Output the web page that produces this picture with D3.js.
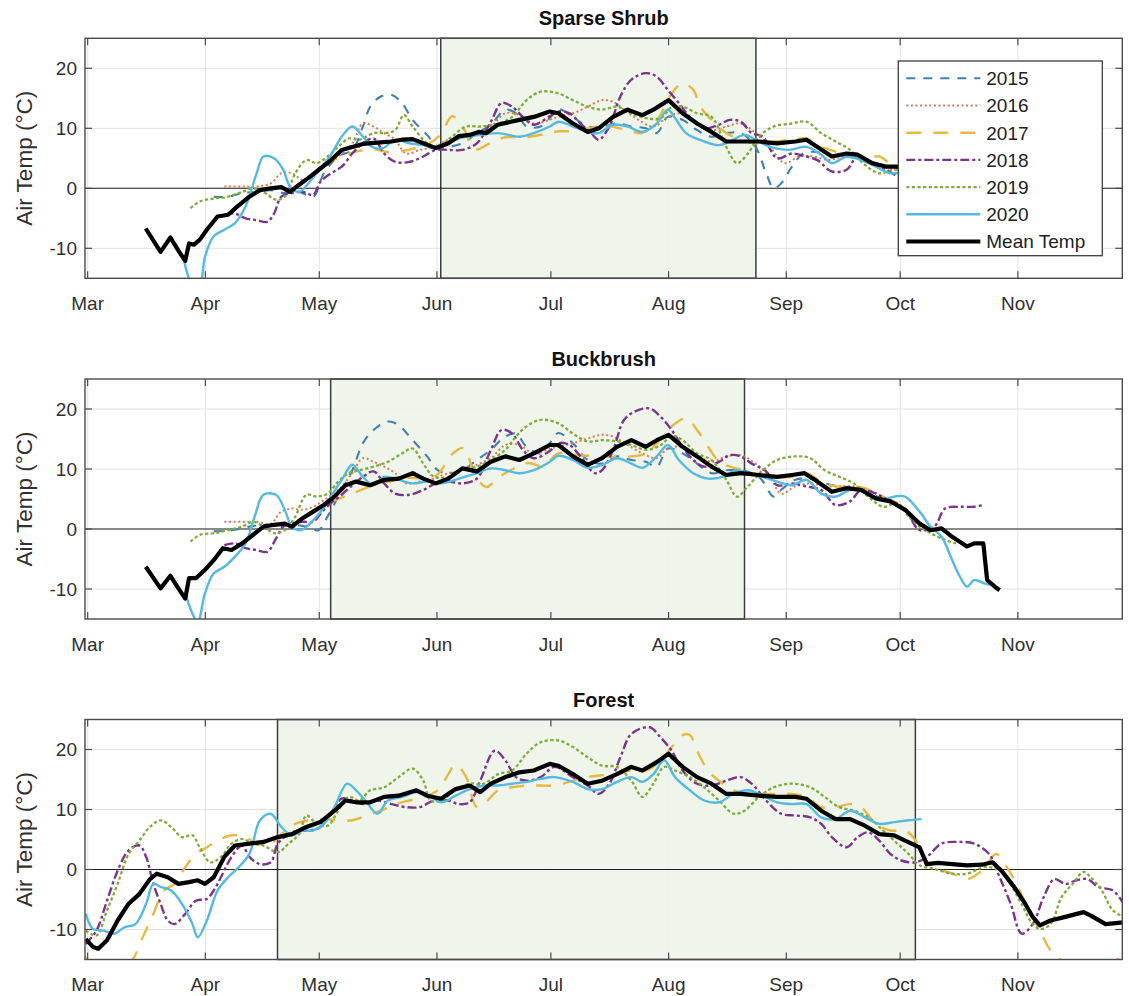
<!DOCTYPE html>
<html><head><meta charset="utf-8">
<script src="https://cdn.jsdelivr.net/npm/d3@7"></script>
<style>
html,body{margin:0;padding:0;background:#fff;}
text{font-family:Arial,"Liberation Sans",Helvetica,sans-serif;}
</style></head>
<body><svg id="chart" width="1129" height="996"></svg>
<script>
// ---------- categories / ticks ----------
const MONTH_LABELS = ["Mar","Apr","May","Jun","Jul","Aug","Sep","Oct","Nov"];
const MONTH_DAYS   = [0,31,61,92,122,153,184,214,245];   // days since 1 Mar
const Y_TICKS = [-10,0,10,20];
const YEARS = ["2015","2016","2017","2018","2019","2020"];
const LEGEND_LABELS = ["2015","2016","2017","2018","2019","2020","Mean Temp"];
const PANEL_TITLES = ["Sparse Shrub","Buckbrush","Forest"];
// growing-season shading, [start day, end day] since 1 Mar
const SHADE_SHRUB = [93,176];
const SHADE_BUCK  = [64,173];
const SHADE_FOREST= [50,218];

// ---------- data: [day since 1 Mar, air temp °C] ----------
const shrub2015 = [[33.2,-1.4],[37,-1.4],[40.7,-0.8],[44.5,-0.6],[48.2,-0.3],[51.9,-0.8],[55.7,-0.6],[59.4,-1.4],[62.2,2.5],[66,5.3],[69.7,6.4],[72.5,10.3],[74.4,13.6],[77.2,15.3],[80,15.6],[82.8,14.2],[85.6,11.4],[89.4,8.9],[92.2,6.9],[95,6.9],[98.7,7.5],[102.5,9.2],[106.2,10.6],[110,13.1],[112.8,12.5],[115.6,10.3],[119.3,10.3],[121.7,11.7],[124,13.2],[127.8,11.9],[131.7,10.3],[135.5,10.3],[139.4,10.8],[143.2,10.3],[147,10],[149.9,9.2],[152.8,11.9],[156.7,11.4],[160.5,9.7],[164.3,8.6],[168.2,9.2],[172,9.2],[175.9,6.9],[178.7,2.5],[180.7,0],[182.6,0.8],[185.5,3.6],[188.4,5.8],[191.2,6.1],[195.1,5.6],[198.9,5.3],[202.8,5],[206.6,4.2],[210.4,3.6],[214,3.3]];
const shrub2016 = [[36,0.3],[40.7,0.3],[44.5,0.3],[48.2,0.8],[51,2.5],[53.8,2.5],[56.6,1.4],[59.4,2.5],[62.2,3.6],[66,5.3],[69.7,7.5],[72.5,10.8],[75.3,10.3],[78.1,9.2],[81,8.1],[83.8,5.8],[87.5,6.4],[91.2,6.9],[95,8.1],[98.7,8.6],[102.5,9.2],[106.2,10.3],[110,12.5],[113.7,12.2],[117.5,10.8],[121.7,11.4],[124,11.9],[127.8,12.5],[131.7,13.6],[135.5,14.7],[138.4,14.4],[141.3,13.1],[145.1,11.4],[149,10.3],[152.8,11.9],[156.7,12.5],[160.5,10.8],[164.3,9.7],[168.2,10.3],[172,10.8],[175.9,9.2],[179.7,6.9],[183.6,4.2],[187.4,5.3],[191.2,5.3],[195.1,4.7],[198.9,5.3],[202.8,5.3],[206.6,4.4],[210.4,3.6],[214,3.2]];
const shrub2017 = [[62,4],[66,5],[70,6],[75,6.5],[80,6],[85,6.5],[90,7.5],[93,9],[96,12],[99,10],[102,6.5],[106,7.5],[110,8.5],[115,8.5],[120,9],[124,9.5],[128,9.5],[132,10],[136,10.5],[140,10],[143,9.5],[146,9.2],[150,11.4],[153.8,15.8],[156.7,17.5],[159.5,16.4],[161.4,13.6],[164.3,11.4],[168.2,9.2],[172,8.1],[175.9,7.5],[180.7,7.8],[185.5,8.1],[189.3,8.3],[193.2,6.9],[197,6.1],[200.8,5.3],[204.7,5],[208.5,5.3],[212.4,3.6],[216,3]];
const shrub2018 = [[36,-4.4],[38.8,-4.2],[41.6,-5],[44.5,-5.3],[47.3,-5.6],[49.1,-4.2],[51,-1.4],[53.8,-0.8],[56.6,-0.6],[59.4,-1.1],[61.3,1.1],[64.1,2.5],[66.9,3.6],[69.7,5.8],[72.5,7.5],[75.3,8.3],[78.1,5.8],[81,4.4],[84.7,4.4],[88.4,5.3],[91.7,6.4],[95,6.4],[98.7,6.4],[102.5,7.5],[106.2,11.1],[109,14.2],[111.8,13.6],[114.6,11.9],[117.5,10.6],[121.7,12],[124,12.8],[126.9,12.5],[129.8,10.8],[132.6,9.2],[134.6,8.1],[137.4,10.3],[140.3,15.3],[143.2,18.1],[147,19.2],[149.9,18.6],[152.8,16.4],[155.7,14.2],[158.6,11.9],[162.4,10],[166.3,10.6],[169.1,11.4],[172,11.1],[174.9,9.2],[177.8,8.6],[181.6,5],[185.5,5.8],[189.3,5.3],[192.2,4.7],[196,2.8],[199.9,3.1],[202.8,5.3],[206.6,4.2],[210.4,3.1],[213.3,1.9]];
const shrub2019 = [[27.1,-3.3],[29.5,-2.2],[33.2,-1.7],[37,-1.4],[40.7,-0.6],[43.5,0],[46.3,-0.6],[49.6,-1.9],[51.9,-1.4],[54.7,2.5],[57.6,4.7],[60.4,4.2],[63.2,5.3],[66,6.9],[68.8,8.3],[71.6,8.1],[75.3,9.2],[78.1,9.2],[81,9.7],[83.3,12.2],[85.6,10.3],[89.4,7.5],[92.2,6.9],[95.9,8.6],[99.7,10.3],[103.4,10.3],[108.1,10.8],[111.8,11.9],[115.6,14.7],[119.3,16.1],[124,15.8],[127.8,14.7],[131.7,13.6],[135.5,13.1],[139.4,13.6],[143.2,12.5],[147,11.7],[150.9,11.7],[153.8,13.5],[156.7,13.6],[160.5,12.5],[164.3,11.9],[168.2,6.9],[171,4.2],[173.9,5.8],[176.8,8.6],[180.7,10.3],[185.5,10.8],[189.3,11.1],[193.2,9.2],[197,7.8],[200.8,6.4],[204.7,3.9],[208.5,2.5],[212.4,3.1],[216,2.6]];
const shrub2020 = [[25.2,-11.5],[27.6,-16],[29.5,-16],[30.9,-11.4],[33.2,-8],[36,-6.9],[38.8,-5.8],[41.6,-3],[44.5,2.5],[46.3,5.3],[49.1,5],[51.5,3.1],[53.3,0.3],[55.7,-0.6],[58.5,1.1],[61.3,3.3],[64.1,5.6],[66.9,8.6],[69.7,10.3],[72.5,8.6],[74.9,6.9],[77.7,6.7],[81,8.1],[84.7,7.5],[88.4,7.2],[91.7,6.7],[97.8,8.3],[103.4,8.9],[108.1,9.2],[113.7,8.6],[117.5,9.2],[121.7,10.3],[124,11.1],[127.8,10.3],[131.7,9.4],[134.6,9.2],[138.4,10.6],[142.2,10.3],[146.1,9.4],[149.9,10.8],[152.8,13.1],[154.7,11.7],[157.6,9.2],[162.4,7.8],[166.3,7.2],[169.1,7.8],[173,8.9],[175.9,8.1],[179.7,6.9],[184.5,6.4],[189.3,6.9],[193.2,5.6],[196,4.2],[199.9,5.3],[203.7,4.7],[207.6,3.6],[211.4,2.5],[215,2.8]];
const shrubMean = [[15.3,-6.7],[19.2,-10.6],[21.8,-8.2],[23.9,-10.4],[25.7,-12.1],[26.7,-9.2],[28,-9.4],[29.5,-8.6],[31.4,-6.9],[34.2,-4.7],[37,-4.4],[39.3,-3.1],[42.6,-1.4],[45.4,-0.3],[48.2,0],[51,0.2],[53.3,-0.6],[55.7,0.6],[58.5,1.9],[61.3,3.3],[64.1,4.7],[66.9,6.4],[69.7,6.9],[72.5,7.4],[76.3,7.6],[80,7.8],[82.8,8.1],[85.6,8.2],[88.4,7.5],[91.7,6.7],[95,7.5],[97.8,8.7],[100.6,8.9],[103,9.4],[105,9.2],[108,10.6],[113.7,11.4],[117.5,11.9],[121.7,12.8],[124,12.5],[127.8,10.8],[131.7,9.4],[134.6,10],[138.4,11.9],[142.2,13.1],[146.1,12.2],[149,13.1],[153,14.7],[156.7,12.5],[160.5,10.8],[164.3,9.4],[168.2,7.8],[172,7.8],[176.8,7.8],[181.6,7.5],[186.4,7.8],[189.3,8.1],[192.2,6.9],[196,5.3],[199.9,5.8],[202.8,5.6],[206.6,4.2],[210.4,3.6],[213.3,3.6],[216,3.2]];

const buck2015 = [[33.2,-0.4],[37.9,-0.2],[42.6,0.4],[46.3,0.7],[50.1,0.4],[53.8,0.7],[57.6,0.4],[60.8,-0.2],[63.2,2.1],[66.9,6.5],[69.7,9.8],[72.5,14.3],[75.3,16.5],[79.1,17.9],[81.9,17.3],[85.6,14.8],[89.4,12.1],[92.2,9.8],[95,9.3],[98.7,9.8],[102.5,11.5],[106.2,13.2],[110,15.4],[112.8,15.9],[115.6,13.7],[119.3,12.6],[121.7,14.3],[124,16],[127.8,14.3],[131.7,11.5],[135.5,10.9],[139.4,12.1],[143.2,11.5],[147,11.2],[149.9,10.4],[152.8,13.4],[156.7,12.6],[160.5,10.9],[164.3,9.3],[168.2,9.8],[172,9.8],[176.8,8.7],[180.7,5.4],[182.6,6.5],[186.4,8.2],[190.3,8.4],[194.1,7.6],[198,7.1],[201.8,6.8],[205.6,5.9],[209.5,5.1],[213.3,4.3]];
const buck2016 = [[36,1.2],[40.7,1.2],[44.5,1.2],[48.2,0.9],[51,2.9],[53.8,3.4],[56.6,3.2],[59.4,3.7],[62.2,4.8],[66,6.5],[69.7,9.3],[72.5,11.8],[75.3,11.2],[78.1,10.4],[81,9.3],[83.8,7.6],[87.5,7.9],[91.2,8.4],[95,9.3],[98.7,9.8],[102.5,10.7],[106.2,11.8],[110,14],[113.7,14],[117.5,12.6],[121.7,13.4],[124,13.7],[127.8,14.3],[131.7,15.1],[135.5,15.7],[138.4,15.4],[142.2,14],[146.1,12.6],[149.9,11.8],[152.8,13.4],[156.7,13.7],[160.5,12.3],[164.3,11.2],[168.2,12.1],[172,12.3],[175.9,10.9],[179.7,8.7],[182.6,5.9],[186.4,7.1],[190.3,7.6],[194.1,7.1],[198,7.1],[201.8,7.1],[205.6,6.5],[209.5,5.4],[213.3,4.3]];
const buck2017 = [[64,4.5],[68,5.5],[72,6.5],[76,7.5],[80,8],[84,8.5],[88,8.5],[92,9],[96,12.5],[99,13.5],[102,9],[105,7],[108,8.5],[112,10],[116,11],[120,10.5],[124,12.6],[129.8,12.3],[135.5,12.1],[143.2,12.1],[147,12.6],[149.9,14.3],[153.8,17.1],[157.6,18.4],[160.5,16.5],[163.4,13.7],[166.3,11.2],[169.1,10.4],[173,9.8],[176.8,9],[180.7,8.7],[185.5,8.7],[189.3,9.3],[193.2,7.9],[197,7.1],[200.8,7.1],[204.7,6.8],[207.6,5.9],[211.4,4.8],[214.3,4.3]];
const buck2018 = [[36,-2.7],[38.8,-2.4],[41.6,-3.2],[44.5,-3.5],[47.3,-3.8],[49.6,-1.6],[51.5,0.4],[53.8,0.9],[56.6,1.2],[59.4,1.2],[61.8,2.9],[64.1,4.3],[66.9,5.7],[69.7,7.3],[72.5,8.7],[75.3,9.6],[78.1,7.6],[81,5.9],[84.7,5.7],[88.4,6.5],[91.7,7.6],[95,7.9],[98.7,7.6],[102.5,8.4],[106.2,13.2],[109,16.5],[111.8,15.9],[114.6,13.2],[117.5,11.8],[121.7,13],[124,14.3],[126.9,14],[129.8,12.1],[133.6,9.3],[135.5,9.8],[138.4,13.2],[141.3,18.2],[144.2,19.6],[148,20.1],[150.9,18.7],[153.8,16.5],[156.7,13.7],[159.5,11.5],[162.4,10.4],[166.3,11.2],[169.1,12.3],[172,12.1],[174.9,10.9],[178.7,9.6],[181.6,7.3],[185.5,7.6],[189.3,7.1],[193.2,6.5],[197,4],[200.8,4.6],[203.7,6.5],[207.6,5.9],[211.4,4.6],[215.3,3.2],[219.1,-0.2],[223,0.4],[225.8,3.4],[229.7,3.7],[233.5,3.7],[235.9,4]];
const buck2019 = [[27.1,-2.1],[29.5,-1],[33.2,-0.7],[37,-0.2],[40.7,0.4],[43.5,1.2],[46.3,0.4],[49.1,-0.7],[51.9,-0.2],[54.7,2.1],[57.6,5.7],[60.4,5.4],[63.2,5.9],[66,7.9],[68.8,9.3],[71.6,9.8],[75.3,10.4],[79.1,11.2],[82.8,12.6],[85.6,13.4],[88.4,10.9],[91.2,8.7],[95,8.7],[98.7,10.1],[102.5,10.4],[106.2,11.5],[110,13.2],[112.8,15.4],[115.6,17.1],[119.3,18.2],[124,17.6],[127.8,15.9],[131.7,14.6],[135.5,14.8],[139.4,14.6],[143.2,14],[147,13.2],[151,14],[153.8,15.5],[156.7,14.8],[160.5,12.6],[164.3,11.5],[168.2,8.2],[171,5.4],[173.9,7.1],[177.8,9.8],[181.6,11.5],[186.4,12.1],[190.3,11.8],[194.1,9.8],[198,8.7],[201.8,7.6],[205.6,5.4],[209.5,3.7],[213.3,4.3],[216.2,2.1],[219.1,0.4],[222,-0.7],[225.8,-1.8],[228.7,-2.4]];
const buck2020 = [[25.7,-10.7],[27.6,-14.1],[29,-15.5],[30.9,-10.7],[33.2,-7.4],[36,-6.3],[38.8,-4.6],[41.6,-2.4],[44,2.1],[46.3,5.7],[49.6,5.7],[51.9,3.2],[53.8,0.4],[56.2,-0.2],[59,1.2],[61.8,3.2],[64.6,5.9],[67.4,8.7],[69.7,10.7],[72.5,8.7],[75.3,7.3],[78.1,8.7],[81.9,8.2],[85.6,7.6],[89.4,7.9],[93.1,7.6],[97.8,8.4],[102.5,9.3],[106.2,10.1],[110,9.8],[113.7,9.3],[117.5,9.8],[121.7,11.2],[124,12.2],[127.8,11.5],[131.7,10.2],[135.5,10.7],[139.4,11.8],[143.2,10.9],[146.1,10.2],[149.9,12.1],[152.8,14],[155.7,11.5],[159.5,9.3],[163.4,8.4],[167.2,8.7],[171,9.8],[173.9,9.3],[177.8,8.7],[181.6,7.9],[185.5,7.3],[189.3,8.2],[193.2,5.9],[197,5.4],[200.8,6.5],[204.7,6.2],[208.5,4.8],[212.4,5.4],[215.3,5.4],[219.1,2.9],[222,0.4],[224.9,-1.3],[227.7,-5.2],[229.7,-7.9],[231.6,-9.6],[233.5,-8.5],[236.3,-9.1],[238.3,-9.3]];
const buckMean = [[15.3,-6.3],[19.2,-9.9],[21.8,-7.8],[23.9,-9.9],[25.7,-11.6],[26.7,-8.2],[28.5,-8.2],[30.9,-6.8],[33.2,-5.2],[35.6,-3.2],[37.9,-3.5],[40.7,-2.4],[43.5,-1],[46.3,0.4],[49.1,0.7],[51.9,0.9],[53.8,0.4],[56.6,1.8],[59.4,2.9],[62.2,4],[65,5.4],[67.9,7.3],[70.7,7.9],[74.4,7.3],[78.1,8.2],[81.9,8.4],[85.6,9.3],[88.4,8.4],[91.7,7.6],[95,8.4],[98.7,10.1],[102.5,9.6],[106.2,11.2],[110,12.1],[113.7,11.5],[117.5,12.6],[121.7,14],[124,14],[127.8,12.1],[131.7,10.7],[135.5,11.8],[139.4,13.7],[143.2,14.8],[147,13.7],[149.9,14.8],[153,15.7],[156.7,13.7],[160.5,12.1],[164.3,10.4],[168.2,9],[172,9.3],[176.8,9],[181.6,8.7],[185.5,9],[188.8,9.3],[192.2,7.9],[196,6.2],[199.9,6.8],[203.7,6.5],[207.6,5.1],[211.4,4.6],[215.3,3.2],[219.1,0.9],[222,-0.2],[224.9,0.1],[227.7,-1.3],[231.6,-2.9],[233.5,-2.4],[235.9,-2.4],[236.9,-8.5],[239.3,-9.8],[240.2,-10.2]];

const forest2015 = [];
const forest2016 = [];
const forest2017 = [[-0.7,-14.6],[3,-16.5],[8,-17.5],[11.7,-15.2],[14.5,-11.3],[17.3,-7.4],[20.1,-3.5],[22.9,-2.4],[25.7,0.4],[28.5,2.6],[31.4,3.7],[34.2,4.8],[37.9,5.7],[41.6,5.4],[44.5,4.3],[48.2,4.3],[51,5.9],[54.7,7.6],[58.5,8.2],[62.2,8.4],[66,8.2],[69.7,8.2],[73.5,9],[77.2,9.8],[81,10.9],[84.7,11.5],[88.4,12.1],[92.2,13.2],[95,15.9],[96.9,17.5],[99.7,15.4],[102.5,10.4],[105.3,11.5],[108.1,13.2],[111.8,13.7],[115.6,14],[119.3,14],[123,14],[127.8,14.8],[131.7,15.4],[135.5,15.7],[139.4,15.9],[143.2,16.5],[147,16.5],[151,18.2],[153.8,20.4],[156.7,22.4],[158.6,22.4],[160.5,19.8],[163.4,16.5],[166.3,14.8],[170.1,13.2],[174,12.6],[177.8,12.6],[181.6,12.6],[185.5,12.6],[189.3,12.1],[193.2,10.4],[197,10.4],[200.8,10.9],[203.7,10.4],[207.6,7.6],[211.4,6.5],[215.3,6.5],[218.1,4.8],[220,2.1],[222.9,0.4],[227.7,-0.7],[231.6,-1.6],[235.5,-0.2],[239.3,2.6],[242.1,0.4],[245,-2.9],[247.9,-6.8],[250.8,-10.2],[253.6,-13.5],[255.6,-14.6],[258,-16.5],[265,-17],[270,-15.8],[272.9,-13.5]];
const forest2018 = [[-0.5,-12.4],[2.3,-10.2],[5.1,-5.2],[7.9,-0.2],[10.8,3.2],[13.6,4],[15.4,2.1],[17.3,-2.4],[19.2,-5.7],[21.1,-8.5],[22.9,-9.1],[25.7,-7.4],[28.5,-5.2],[31.4,-4.9],[33.2,-3.5],[35.1,-1.3],[37.9,2.1],[40.7,4],[42.6,2.1],[45.4,0.9],[48.2,1.2],[50.1,4.3],[52.9,5.9],[55.7,6.5],[58.5,6.5],[61.3,7.1],[64.1,9.3],[66.9,11.8],[69.7,11.5],[72.5,10.9],[76.3,11.5],[80,10.9],[83.8,10.4],[87.5,10.4],[91.2,11.5],[95,11.5],[97.8,10.9],[100.6,11.2],[103.4,14.8],[107.2,19.8],[110,18.2],[112.8,15.4],[115.6,14.8],[119.3,15.4],[123,17.1],[127.8,15.4],[131.7,14],[134.6,12.6],[137.4,14.3],[140.3,18.7],[143.2,22.6],[148,23.7],[150.9,22],[153.8,19.8],[156.7,16.5],[160.5,14.3],[164.3,14],[168.2,14.8],[172,15.4],[174.9,14.3],[178.7,11.5],[182.6,9.3],[186.4,9],[190.3,8.7],[193.2,7.6],[196,5.4],[199.9,3.7],[202.8,5.4],[205.6,6.2],[208.5,4.8],[211.4,2.6],[214.3,1.5],[218.1,1.2],[221,2.1],[224.8,4.3],[228.7,4.6],[233.5,4.3],[237.4,2.6],[240.2,-1.3],[243.1,-5.7],[246,-10.7],[248.9,-9.1],[251.8,-4.6],[254.6,-1.6],[257.5,-2.4],[260.4,-1.8],[263.3,-1.6],[266.2,-2.9],[270,-3.5],[272.9,-5.7]];
const forest2019 = [[-0.5,-10.2],[2.3,-11],[5.1,-6.8],[7.9,-2.4],[10.8,2.6],[13.6,4.8],[16.4,7.1],[19.2,8.2],[22,7.1],[24.8,5.4],[27.6,5.7],[29.5,3.7],[32.3,1.2],[35.1,2.1],[37.9,4.3],[40.7,5.1],[43.5,4.3],[46.3,4],[50.1,2.9],[52.9,4.3],[55.7,5.9],[57.6,9],[60.4,7.6],[63.2,7.3],[66,9.8],[68.8,12.1],[71.6,11.5],[74.4,13.2],[78.1,13.7],[81.9,15.4],[85.6,16.8],[88.4,14.8],[90.3,11.5],[93.1,11.5],[96.9,13.2],[100.6,14.3],[104.4,14.3],[108.1,15.9],[111.8,16.5],[115.6,19.3],[119.3,21.2],[124,21.5],[127.8,20.4],[131.7,18.7],[135.5,17.3],[139.4,17.1],[143.2,14.8],[146.1,12.1],[149,14.3],[151.8,17.1],[154.7,16.5],[158.6,15.4],[162.4,13.7],[166.3,11.5],[170.1,9.3],[173,9.8],[176.8,12.1],[180.7,13.7],[185.5,14.3],[190.3,13.7],[194.1,12.1],[197.9,10.4],[201.8,9.8],[205.6,8.7],[209.5,6.5],[213.3,4.3],[216.2,2.6],[219.1,0.7],[223,0.1],[227.7,-0.7],[231.6,-0.7],[236.3,0.4],[240.2,-0.2],[243,-2.4],[245.9,-5.7],[248.9,-9.1],[250.8,-9.9],[253.6,-9.1],[256.5,-4.6],[259.4,-2.4],[262.3,-0.4],[264.2,-1.3],[267.1,-3.5],[270,-6.8],[272.9,-7.9]];
const forest2020 = [[-0.5,-7.4],[1.4,-9.9],[4.2,-10.2],[7,-10.7],[9.8,-9.6],[12.6,-9.1],[15.4,-5.7],[17.3,-2.4],[19.2,-2.9],[22,-3.5],[24.8,-5.7],[27.6,-9.1],[29,-11.3],[31.4,-8.5],[34.2,-3.5],[37,-1.3],[39.8,0.4],[42.6,2.6],[45.4,8.2],[48.2,9.3],[51,7.1],[53.8,5.7],[56.6,6.5],[59.4,6.5],[62.2,7.6],[65,10.4],[68.3,14.3],[70.7,13.2],[73.5,11.2],[76.3,9.3],[79.1,11.5],[82.8,12.1],[86.6,12.9],[89.4,12.6],[93.1,11.2],[96.9,12.3],[100.6,13.4],[104.4,14],[108.1,14],[111.8,14.3],[115.6,14.6],[119.3,15.1],[123,15.4],[127.8,14.6],[131.7,13.4],[135.5,13.4],[139.4,14.6],[143.2,15.4],[146.1,14.6],[149,15.9],[151.8,18.2],[154.7,15.4],[158.6,13.2],[162.4,11.5],[166.3,11.2],[170.1,12.6],[174,13.2],[177.8,12.3],[181.6,11.2],[185.5,10.9],[189.3,10.9],[193.2,8.7],[197,8.4],[200.8,9.8],[204.7,8.7],[208.5,7.6],[212.4,7.9],[216.2,8.2],[219.6,8.4]];
const forestMean = [[-0.5,-11.6],[1.4,-12.9],[2.8,-13.2],[5.1,-11.8],[7.9,-8.5],[10.8,-5.7],[13.6,-4.1],[16.4,-1.6],[18.2,-0.7],[21.1,-1.3],[23.9,-2.4],[26.7,-2.1],[29,-1.8],[30.9,-2.4],[33.2,-1.3],[36,2.1],[38.8,4],[42.6,4.3],[46.3,4.6],[50.1,5.4],[53.8,5.9],[57.6,7.1],[61.3,7.9],[65,9.8],[67.9,11.5],[70.7,11.2],[74.4,11.2],[78.1,12.1],[81.9,12.3],[86.6,13.2],[89.4,12.3],[93.1,11.8],[96.9,13.4],[100.6,14],[103.4,12.9],[106.2,14.3],[110,15.4],[113.7,16.2],[117.5,16.5],[121.7,17.6],[124,17.3],[127.8,15.9],[131.7,14.3],[135.5,14.8],[139.4,15.9],[143.2,17.1],[146.1,16.5],[149.9,17.9],[153,19.3],[156.7,17.1],[160.5,15.4],[164.3,14.3],[168.2,12.6],[172,12.6],[176.8,12.3],[181.6,12.1],[186.4,12.1],[189.3,11.8],[193.2,9.8],[197,8.4],[200.8,8.4],[204.7,7.3],[208.5,5.9],[212.4,5.7],[215.3,4.8],[219.1,3.7],[221,0.9],[223.9,1.1],[227.7,0.9],[231.6,0.7],[235.5,0.8],[238.3,1.2],[240.7,-0.2],[244,-2.9],[246.9,-5.7],[248.9,-7.9],[250.8,-9.3],[253.6,-8.5],[257.5,-7.9],[262.3,-7.1],[264.2,-7.7],[268.1,-9.1],[272.9,-8.8]];

// ---------- drawing ----------
const COLORS = ["#3f80b0","#d47c55","#e9b843","#7b348b","#7fab3a","#55b9e2","#000000"];
const DASHES = ["9,8","2,2.6","15,12","9,3,3,3","3.2,2.4",null,null];
const WIDTHS = [2.1,2.0,2.4,2.4,2.3,2.4,4.2];

const panels = [
  {title:PANEL_TITLES[0], top:38.3, shade:SHADE_SHRUB, series:[shrub2015,shrub2016,shrub2017,shrub2018,shrub2019,shrub2020,shrubMean], legend:true},
  {title:PANEL_TITLES[1], top:379,  shade:SHADE_BUCK,  series:[buck2015,buck2016,buck2017,buck2018,buck2019,buck2020,buckMean]},
  {title:PANEL_TITLES[2], top:719.5,shade:SHADE_FOREST,series:[forest2015,forest2016,forest2017,forest2018,forest2019,forest2020,forestMean]}
];

const svg = d3.select("#chart");
const L = 85, R = 1122.3, PH = 240;
const x = d3.scaleLinear().domain([-0.7, 272.5]).range([L, R]);

panels.forEach((p, pi) => {
  const T = p.top, B = T + PH;
  const y = d3.scaleLinear().domain([-15, 25]).range([B, T]);
  const g = svg.append("g");
  const clipId = "clip" + pi;
  svg.append("clipPath").attr("id", clipId).append("rect")
    .attr("x", L).attr("y", T).attr("width", R - L).attr("height", PH);

  // grid
  g.selectAll(".vg").data(MONTH_DAYS).join("line")
    .attr("x1", d => x(d)).attr("x2", d => x(d)).attr("y1", T).attr("y2", B)
    .attr("stroke", "#e3e3e3").attr("stroke-width", 1);
  g.selectAll(".hg").data(Y_TICKS).join("line")
    .attr("x1", L).attr("x2", R).attr("y1", d => y(d)).attr("y2", d => y(d))
    .attr("stroke", "#e3e3e3").attr("stroke-width", 1);

  // shaded season
  g.append("rect")
    .attr("x", x(p.shade[0])).attr("y", T)
    .attr("width", x(p.shade[1]) - x(p.shade[0])).attr("height", PH)
    .attr("fill", "#eef4e8").attr("fill-opacity", 0.92)
    .attr("stroke", "#3c3c3c").attr("stroke-width", 1.5);

  // zero line
  g.append("line").attr("x1", L).attr("x2", R).attr("y1", y(0)).attr("y2", y(0))
    .attr("stroke", "#222").attr("stroke-width", 1.1);

  const lineYear = d3.line().x(d => x(d[0])).y(d => y(d[1])).curve(d3.curveCatmullRom.alpha(0.5));
  const lineMean = d3.line().x(d => x(d[0])).y(d => y(d[1]));
  const lg = g.append("g").attr("clip-path", `url(#${clipId})`);
  p.series.forEach((s, i) => {
    if (!s.length) return;
    lg.append("path").datum(s)
      .attr("d", i === 6 ? lineMean : lineYear)
      .attr("fill", "none").attr("stroke", COLORS[i])
      .attr("stroke-width", WIDTHS[i])
      .attr("stroke-dasharray", DASHES[i])
      .attr("stroke-linejoin", "round");
  });

  // box
  g.append("rect").attr("x", L).attr("y", T).attr("width", R - L).attr("height", PH)
    .attr("fill", "none").attr("stroke", "#4a4a4a").attr("stroke-width", 1.4);

  // ticks (inward, all four sides)
  const tk = 7;
  MONTH_DAYS.forEach(d => {
    g.append("line").attr("x1", x(d)).attr("x2", x(d)).attr("y1", B).attr("y2", B - tk).attr("stroke", "#4a4a4a").attr("stroke-width", 1.2);
    g.append("line").attr("x1", x(d)).attr("x2", x(d)).attr("y1", T).attr("y2", T + tk).attr("stroke", "#4a4a4a").attr("stroke-width", 1.2);
  });
  Y_TICKS.forEach(v => {
    g.append("line").attr("x1", L).attr("x2", L + tk).attr("y1", y(v)).attr("y2", y(v)).attr("stroke", "#4a4a4a").attr("stroke-width", 1.2);
    g.append("line").attr("x1", R).attr("x2", R - tk).attr("y1", y(v)).attr("y2", y(v)).attr("stroke", "#4a4a4a").attr("stroke-width", 1.2);
  });

  // tick labels
  g.selectAll(".xl").data(MONTH_DAYS).join("text")
    .attr("x", d => x(d)).attr("y", B + 31.5)
    .attr("text-anchor", "middle").attr("font-size", 19).attr("fill", "#303030")
    .text((d, i) => MONTH_LABELS[i]);
  g.selectAll(".yl").data(Y_TICKS).join("text")
    .attr("x", 77).attr("y", d => y(d) + 6.8)
    .attr("text-anchor", "end").attr("font-size", 19).attr("fill", "#303030")
    .text(d => d);

  // axis label
  g.append("text")
    .attr("transform", `translate(32,${T + PH / 2}) rotate(-90)`)
    .attr("text-anchor", "middle").attr("font-size", 22.5).attr("fill", "#303030")
    .text("Air Temp (\u00B0C)");

  // title
  g.append("text").attr("x", (L + R) / 2).attr("y", T - 13)
    .attr("text-anchor", "middle").attr("font-size", 20).attr("font-weight", "bold")
    .attr("fill", "#111").text(p.title);

  // legend
  if (p.legend) {
    const lx = 898.3, ly = 61, lw = 204, lh = 194.7, step = 27.2;
    const leg = g.append("g");
    leg.append("rect").attr("x", lx).attr("y", ly).attr("width", lw).attr("height", lh)
      .attr("fill", "#fff").attr("stroke", "#3c3c3c").attr("stroke-width", 1.3);
    LEGEND_LABELS.forEach((lab, i) => {
      const yy = ly + 17.3 + i * step;
      leg.append("line").attr("x1", lx + 8).attr("x2", lx + 82).attr("y1", yy).attr("y2", yy)
        .attr("stroke", COLORS[i]).attr("stroke-width", WIDTHS[i])
        .attr("stroke-dasharray", DASHES[i]);
      leg.append("text").attr("x", lx + 88).attr("y", yy + 6.8)
        .attr("font-size", 19).attr("fill", "#222").text(lab);
    });
  }
});
</script></body></html>
